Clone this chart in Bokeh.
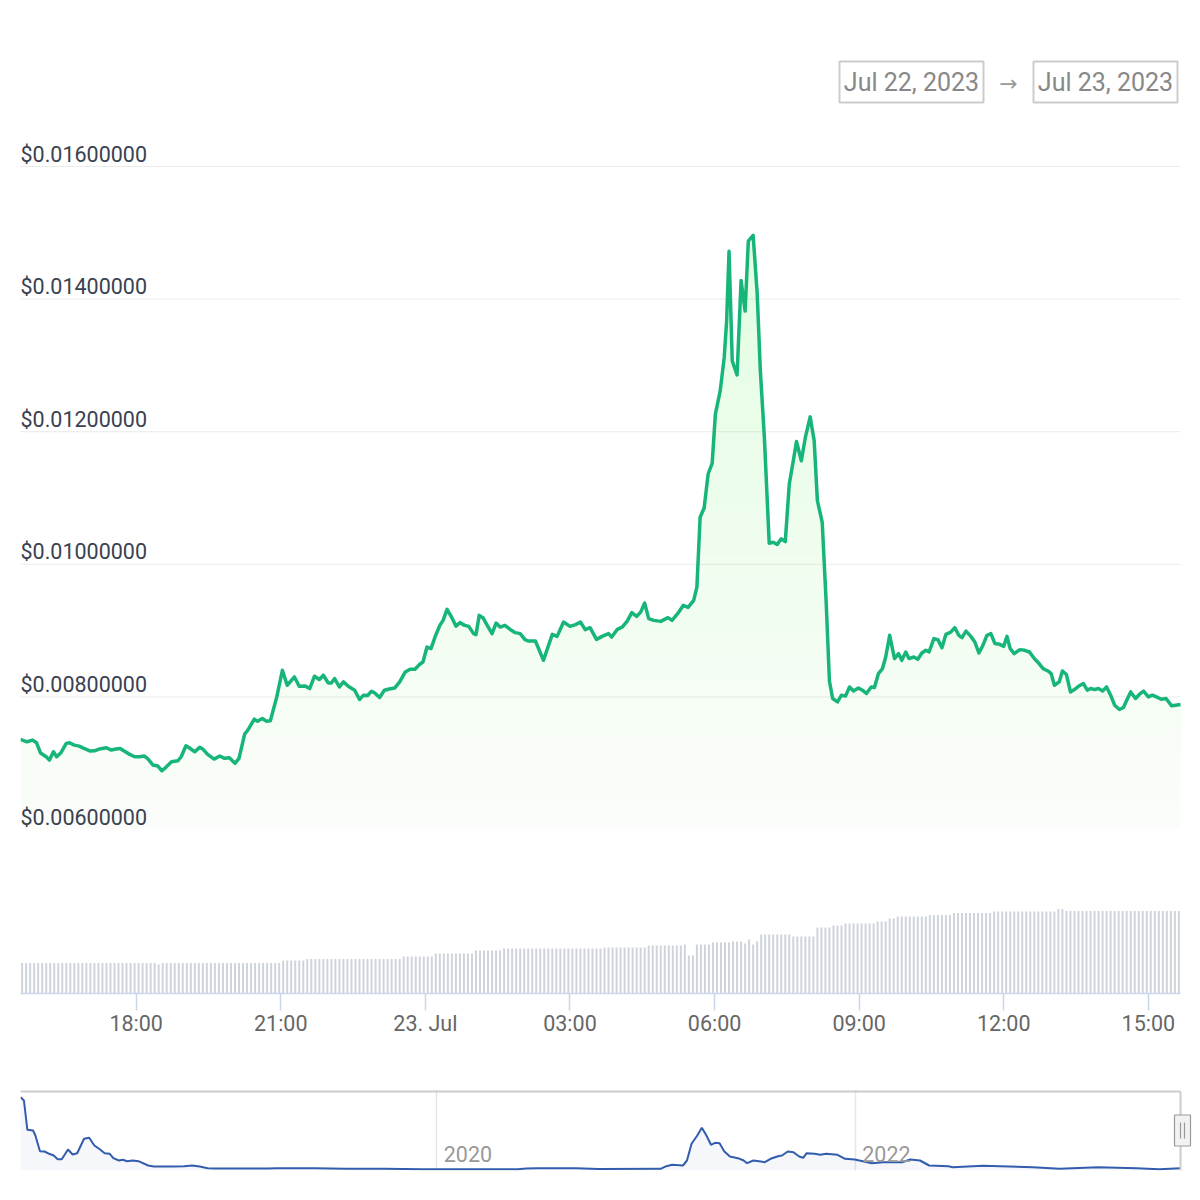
import numpy as np
import pandas as pd
from bokeh.plotting import figure
from bokeh.layouts import column
from bokeh.models import Range1d, FixedTicker
from bokeh.core.properties import value
from bokeh.embed import file_html
from bokeh.resources import INLINE

# ---------------- data ----------------
start_time = pd.Timestamp("2023-07-22 15:35")

price_minutes = [
    1, 9, 16, 21, 26, 33, 37, 42, 46, 51,
    58, 62, 68, 74, 80, 88, 93, 99, 108, 114,
    120, 125, 130, 137, 143, 149, 155, 159, 166, 172,
    177, 182, 189, 197, 201, 207, 211, 218, 224, 228,
    234, 242, 249, 255, 261, 268, 273, 280, 284, 292,
    296, 302, 307, 312, 320, 327, 333, 342, 348, 355,
    361, 367, 373, 378, 384, 388, 392, 398, 403, 409,
    417, 423, 428, 433, 438, 442, 448, 454, 460, 467,
    473, 480, 486, 492, 498, 502, 507, 512, 517, 523,
    527, 532, 538, 543, 548, 554, 559, 565, 568, 572,
    577, 582, 588, 593, 598, 604, 611, 617, 623, 629,
    633,
    642, 652, 663, 669, 677, 685, 692, 698, 704, 710,
    718, 725, 733, 737, 744, 750, 756, 762, 768, 773,
    778, 783, 789, 798, 807, 812, 819, 826, 832, 839,
    843, 847, 852, 857, 862, 866, 872, 877, 880, 883,
    887, 893, 898, 903, 907, 913, 918, 922, 927, 933,
    938, 943, 948, 953, 958, 963, 967, 973, 978, 984,
    989, 993, 999, 1004, 1008, 1012, 1018, 1023, 1028, 1033,
    1038, 1044, 1049, 1054, 1060, 1064, 1069, 1074, 1078, 1083,
    1089, 1094, 1098, 1103, 1107, 1113, 1118, 1123, 1128, 1132,
    1138, 1143, 1148, 1153, 1159, 1164, 1169, 1173, 1178, 1184,
    1189, 1194, 1199, 1204, 1209, 1214, 1220, 1225, 1229, 1233,
    1238, 1245, 1251, 1257, 1263, 1269, 1274, 1280, 1284, 1288,
    1294, 1298, 1303, 1308, 1313, 1318, 1324, 1329, 1333, 1338,
    1343, 1348, 1353, 1358, 1363, 1369, 1374, 1378, 1383, 1389,
    1394, 1399, 1405, 1410, 1415, 1421, 1427, 1434, 1439, 1445,
]

prices = [
    0.007359, 0.007323, 0.007348, 0.007308, 0.007153, 0.007097, 0.007047, 0.007172, 0.007097, 0.007153,
    0.007299, 0.007308, 0.007273, 0.007258, 0.007223, 0.007183, 0.007187, 0.007213, 0.007233, 0.007198,
    0.007213, 0.007223, 0.007183, 0.007133, 0.007097, 0.007097, 0.007108, 0.007073, 0.006972, 0.006957,
    0.006886, 0.006938, 0.007022, 0.007037, 0.007097, 0.007263, 0.007233, 0.007172, 0.007239, 0.007213,
    0.007133, 0.007062, 0.007108, 0.007073, 0.007082, 0.006998, 0.007073, 0.007439, 0.007499, 0.007664,
    0.007634, 0.007675, 0.007634, 0.007639, 0.008000, 0.008402, 0.008176, 0.008301, 0.008161, 0.008166,
    0.008126, 0.008312, 0.008262, 0.008327, 0.008211, 0.008211, 0.008277, 0.008150, 0.008226, 0.008161,
    0.008101, 0.007961, 0.008026, 0.008021, 0.008086, 0.008060, 0.007991, 0.008101, 0.008120, 0.008135,
    0.008226, 0.008376, 0.008417, 0.008417, 0.008492, 0.008527, 0.008752, 0.008728, 0.008903, 0.009079,
    0.009154, 0.009320, 0.009195, 0.009068, 0.009120, 0.009079, 0.009064, 0.008954, 0.008939, 0.009230,
    0.009189, 0.009079, 0.008954, 0.009114, 0.009053, 0.009079, 0.009014, 0.008969, 0.008954, 0.008864,
    0.008843,
    0.008843, 0.008552, 0.008944, 0.008913, 0.009129, 0.009064, 0.009090, 0.009129, 0.009014, 0.009044,
    0.008868, 0.008913, 0.008954, 0.008903, 0.009019, 0.009053, 0.009139, 0.009270, 0.009214, 0.009279,
    0.009415, 0.009180, 0.009154, 0.009139, 0.009195, 0.009154, 0.009255, 0.009380, 0.009350, 0.009455,
    0.009655, 0.010709, 0.010850, 0.011362, 0.011521, 0.012265, 0.012616, 0.013117, 0.013669, 0.014722,
    0.013067, 0.012856, 0.014281, 0.013819, 0.014873, 0.014963, 0.014095, 0.012917, 0.011913, 0.010318,
    0.010333, 0.010298, 0.010384, 0.010343, 0.011211, 0.011562, 0.011853, 0.011562, 0.011913, 0.012224,
    0.011863, 0.010960, 0.010634, 0.009406, 0.008236, 0.007976, 0.007925, 0.008026, 0.008011, 0.008150,
    0.008090, 0.008135, 0.008101, 0.008051, 0.008150, 0.008141, 0.008352, 0.008427, 0.008602, 0.008929,
    0.008578, 0.008653, 0.008552, 0.008677, 0.008578, 0.008602, 0.008567, 0.008662, 0.008703, 0.008677,
    0.008879, 0.008864, 0.008743, 0.008944, 0.008978, 0.009044, 0.008929, 0.008894, 0.008993, 0.008913,
    0.008828, 0.008662, 0.008778, 0.008929, 0.008954, 0.008804, 0.008793, 0.008763, 0.008913, 0.008728,
    0.008653, 0.008713, 0.008703, 0.008677, 0.008578, 0.008503, 0.008427, 0.008391, 0.008352, 0.008176,
    0.008226, 0.008391, 0.008337, 0.008075, 0.008111, 0.008161, 0.008202, 0.008101, 0.008126, 0.008111,
    0.008126, 0.008090, 0.008150, 0.008026, 0.007875, 0.007810, 0.007840, 0.007950, 0.008075, 0.007976,
    0.008041, 0.008086, 0.008000, 0.008026, 0.008000, 0.007965, 0.007976, 0.007865, 0.007875, 0.007886,
]

volume_start = pd.Timestamp("2023-07-22 15:38")
volumes = [
    30.5, 30.5, 30.5, 30.5, 30.5, 30.5, 30.5, 30.5, 30.5, 30.5,
    30.5, 30.5, 30.5, 30.5, 30.5, 30.5, 30.5, 30.5, 30.5, 30.5,
    30.5, 30.5, 30.5, 30.5, 30.5, 30.5, 30.5, 30.5, 30.5, 30.5,
    30.5, 30.5, 30.5, 30.5, 29.0, 30.5, 30.5, 30.5, 30.5, 30.5,
    30.5, 30.5, 30.5, 30.5, 30.5, 30.5, 30.5, 30.5, 30.5, 30.5,
    30.5, 30.5, 30.5, 30.5, 30.5, 30.5, 30.5, 30.5, 30.5, 30.5,
    30.5, 30.5, 30.5, 30.5, 30.5, 33.0, 33.0, 33.0, 33.0, 33.0,
    33.0, 34.5, 34.5, 34.5, 34.5, 34.5, 34.5, 34.5, 34.5, 34.5,
    34.5, 34.5, 34.5, 34.5, 34.5, 34.5, 34.5, 34.5, 34.5, 34.5,
    34.5, 34.5, 34.5, 34.5, 34.5, 37.0, 37.0, 37.0, 37.0, 37.0,
    37.0, 37.0, 37.0, 40.0, 40.0, 40.0, 40.0, 40.0, 40.0, 40.0,
    40.0, 40.0, 40.0, 43.0, 43.0, 43.0, 43.0, 43.0, 43.0, 43.0,
    45.0, 45.0, 45.0, 45.0, 45.0, 45.0, 45.0, 45.0, 45.0, 45.0,
    45.0, 45.0, 45.0, 45.0, 45.0, 45.0, 45.0, 45.0, 45.0, 45.0,
    45.0, 45.0, 45.0, 45.0, 45.0, 46.0, 46.0, 46.0, 46.0, 46.0,
    46.0, 46.0, 46.0, 46.0, 46.0, 46.0, 48.0, 48.0, 48.0, 48.0,
    48.0, 48.0, 48.0, 48.0, 48.0, 49.0, 38.0, 38.0, 49.0, 49.0,
    49.0, 49.0, 51.0, 51.0, 51.0, 51.0, 51.0, 52.0, 52.0, 52.0,
    50.0, 54.0, 49.0, 52.0, 59.0, 59.0, 59.0, 59.0, 59.0, 59.0,
    59.0, 59.0, 57.0, 57.0, 57.0, 57.0, 57.0, 57.0, 66.0, 66.0,
    66.0, 66.0, 68.0, 68.0, 68.0, 70.0, 70.0, 70.0, 70.0, 70.0,
    70.0, 70.0, 70.0, 72.0, 72.0, 72.0, 75.0, 75.0, 77.0, 77.0,
    77.0, 77.0, 77.0, 77.0, 77.0, 77.0, 78.5, 78.5, 78.5, 78.5,
    78.5, 78.5, 80.5, 80.5, 80.5, 80.5, 80.5, 80.5, 80.5, 80.5,
    80.5, 80.5, 82.0, 82.0, 82.0, 82.0, 82.0, 82.0, 82.0, 82.0,
    82.0, 82.0, 82.0, 82.0, 82.0, 82.0, 82.0, 82.0, 84.5, 84.5,
    82.5, 82.5, 82.5, 82.5, 82.5, 82.5, 82.5, 82.5, 82.5, 82.5,
    82.5, 82.5, 82.5, 82.5, 82.5, 82.5, 82.5, 82.5, 82.5, 82.5,
    82.5, 82.5, 82.5, 82.5, 82.5, 82.5, 82.5, 82.5, 82.5,
]

y_ticks = [0.006, 0.008, 0.010, 0.012, 0.014, 0.016]
y_tick_labels = ["$0.00600000", "$0.00800000", "$0.01000000",
                 "$0.01200000", "$0.01400000", "$0.01600000"]

x_tick_times = ["2023-07-22 18:00", "2023-07-22 21:00", "2023-07-23 00:00",
                "2023-07-23 03:00", "2023-07-23 06:00", "2023-07-23 09:00",
                "2023-07-23 12:00", "2023-07-23 15:00"]
x_tick_labels = ["18:00", "21:00", "23. Jul", "03:00", "06:00", "09:00", "12:00", "15:00"]

nav_dates = [
    "2018-01-04", "2018-01-10", "2018-01-16", "2018-01-26", "2018-01-30", "2018-02-07",
    "2018-02-15", "2018-02-23", "2018-03-03", "2018-03-10", "2018-03-17", "2018-03-28",
    "2018-04-05", "2018-04-13", "2018-04-25", "2018-05-04", "2018-05-13", "2018-05-23",
    "2018-05-31", "2018-06-09", "2018-06-15", "2018-06-25", "2018-07-02", "2018-07-09",
    "2018-07-19", "2018-07-29", "2018-08-15", "2018-08-25", "2018-09-13", "2018-09-27",
    "2018-10-17", "2018-10-31", "2018-11-13", "2018-11-27", "2018-12-09", "2019-03-13",
    "2019-03-27", "2019-05-20", "2019-06-02", "2019-07-26", "2019-10-01", "2019-12-07",
    "2020-05-22", "2020-06-05", "2020-06-25", "2020-08-31", "2020-10-10", "2021-01-26",
    "2021-02-05", "2021-02-15", "2021-03-06", "2021-03-13", "2021-03-21", "2021-03-31",
    "2021-04-08", "2021-04-16", "2021-04-24", "2021-05-01", "2021-05-09", "2021-05-17",
    "2021-05-27", "2021-06-10", "2021-06-20", "2021-06-26", "2021-07-07", "2021-07-17",
    "2021-07-27", "2021-08-06", "2021-08-19", "2021-08-26", "2021-09-05", "2021-09-15",
    "2021-09-25", "2021-10-02", "2021-10-08", "2021-10-22", "2021-11-01", "2021-11-11",
    "2021-12-01", "2021-12-14", "2021-12-31", "2022-01-16", "2022-01-30", "2022-02-19",
    "2022-03-24", "2022-04-07", "2022-04-24", "2022-05-10", "2022-06-13", "2022-06-20",
    "2022-08-12", "2022-11-07", "2022-12-24", "2023-03-01", "2023-05-07", "2023-06-16",
    "2023-07-23",
]
nav_prices = [
    0.2639, 0.252, 0.1465, 0.144, 0.126, 0.0695,
    0.0684, 0.0601, 0.054, 0.0407, 0.0407, 0.0756,
    0.0576, 0.0623, 0.1141, 0.1177, 0.090, 0.0756,
    0.0623, 0.0601, 0.0443, 0.036, 0.0385, 0.0335,
    0.036, 0.0335, 0.018, 0.0144, 0.0144, 0.0144,
    0.0155, 0.018, 0.0144, 0.0083, 0.0072, 0.0072,
    0.0083, 0.0083, 0.0083, 0.0061, 0.0061, 0.0047,
    0.0047, 0.0072, 0.0083, 0.0083, 0.005, 0.0061,
    0.0155, 0.0205, 0.018, 0.036, 0.0961, 0.126,
    0.1537, 0.126, 0.0925, 0.0997, 0.0983, 0.0695,
    0.0504, 0.0443, 0.036, 0.0263, 0.036, 0.0335,
    0.0299, 0.0421, 0.0515, 0.054, 0.0684, 0.0659,
    0.0504, 0.0457, 0.0623, 0.0601, 0.0565, 0.0601,
    0.0565, 0.0421, 0.0396, 0.0324, 0.0263, 0.0299,
    0.0299, 0.0396, 0.036, 0.018, 0.0155, 0.0119,
    0.0169, 0.0119, 0.0061, 0.0119, 0.0083, 0.0047,
    0.0079,
]
nav_year_ticks = ["2020-01-01", "2022-01-01"]
nav_year_labels = ["2020", "2022"]

# ---------------- styling / layout ----------------
FONT = value("Roboto")
W = 1200
LINE_GREEN = "#17b57a"
FILL_GREEN = "#7cc55e"
PLOT_PX = 1160     # pixel width of the data area (x = 20 .. 1180)
FRAME_PX = 1172    # frame width (x = 20 .. 1192) leaving room for the navigator handle


def base_fig(**kw):
    f = figure(width=W, output_backend="svg", toolbar_location=None,
               x_axis_type=kw.pop("x_axis_type", None), y_axis_type=None,
               min_border_left=20, min_border_right=8,
               outline_line_color=None, background_fill_color="white",
               border_fill_color="white", **kw)
    return f


price_times = (start_time + pd.to_timedelta(price_minutes, unit="m")).to_numpy()
price_arr = np.array(prices)
t0 = pd.Timestamp(price_times[0])
t1 = pd.Timestamp(price_times[-1])
x_range = Range1d(t0, t0 + (t1 - t0) * (FRAME_PX / PLOT_PX))

# header with date range boxes (coordinates = page pixels)
h = base_fig(height=118, x_range=Range1d(20, 1192), y_range=Range1d(118, 0),
             min_border_top=0, min_border_bottom=0)
date_from = t0.strftime("%b %d, %Y")
date_to = t1.strftime("%b %d, %Y")
h.quad(left=[839, 1033], right=[983, 1177], top=[61, 61], bottom=[102, 102],
       fill_color="white", line_color="#cccccc", line_width=2)
h.text(x=[911, 1105], y=[82, 82], text=[date_from, date_to], text_align="center",
       text_baseline="middle", text_font=FONT, text_font_size="25px", text_color="#888888")
h.text(x=[1008], y=[83], text=["→"], text_align="center", text_baseline="middle",
       text_font=value("DejaVu Sans"), text_font_size="22px", text_color="#999999")

# price panel
p = base_fig(height=711, x_range=x_range, y_range=Range1d(0.006, 0.016724),
             min_border_top=0, min_border_bottom=0)
p.segment(x0=[t0] * len(y_ticks), y0=y_ticks, x1=[t1] * len(y_ticks), y1=y_ticks,
          line_color="#ebebeb", line_width=1)
p.varea(x=price_times, y1=0.006, y2=price_arr, fill_color=FILL_GREEN, fill_alpha=0.04)
for lv in np.linspace(0.006, 0.015, 25)[1:]:
    p.varea(x=price_times, y1=np.minimum(lv, price_arr), y2=price_arr,
            fill_color=FILL_GREEN, fill_alpha=0.009)
p.line(x=price_times, y=price_arr, line_color=LINE_GREEN, line_width=3.5, line_join="round")
p.text(x=[t0] * len(y_ticks), y=y_ticks, text=y_tick_labels,
       text_align="left", text_baseline="bottom",
       text_font=FONT, text_font_size="21.5px", text_color="#3a4150")

# volume panel with time axis
vol_times = (volume_start + pd.to_timedelta(np.arange(len(volumes)) * 5, unit="m")).to_numpy()
v = base_fig(height=221, x_range=x_range, y_range=Range1d(0, 164), x_axis_type="datetime",
             min_border_top=0, min_border_bottom=57)
v.vbar(x=vol_times, top=volumes, width=150000, fill_color="#cfd4dc", line_color=None)
v.xgrid.visible = False
ax = v.xaxis[0]
tick_ms = [float(ts.value // 10**6) for ts in pd.to_datetime(x_tick_times)]
ax.ticker = FixedTicker(ticks=tick_ms)
ax.major_label_overrides = dict(zip(tick_ms, x_tick_labels))
ax.bounds = (t0, t1)
ax.axis_line_color = "#ccd6eb"
ax.axis_line_width = 1.5
ax.major_tick_line_color = "#ccd6eb"
ax.major_tick_line_width = 1.5
ax.major_tick_out = 17
ax.major_tick_in = 0
ax.minor_tick_out = 0
ax.minor_tick_in = 0
ax.major_label_standoff = 0
ax.major_label_text_font = "Roboto"
ax.major_label_text_font_size = "21.5px"
ax.major_label_text_color = "#666666"

# navigator
nd = pd.to_datetime(nav_dates)
span = nd[-1] - nd[0]
dpp = span / PLOT_PX
NAV_TOP = 0.2916
nav_px = NAV_TOP / 81
n = base_fig(height=148, x_range=Range1d(nd[0], nd[0] + dpp * FRAME_PX),
             y_range=Range1d(0, NAV_TOP), min_border_top=39, min_border_bottom=28)
year_ts = pd.to_datetime(nav_year_ticks)
n.vspan(x=year_ts.to_numpy(), line_color="#e6e6e6", line_width=1.5)
n.varea(x=nd.to_numpy(), y1=0, y2=nav_prices, fill_color="#335cad", fill_alpha=0.05)
n.line(x=nd.to_numpy(), y=nav_prices, line_color="#335cad", line_width=2)
n.text(x=year_ts.to_numpy(), y=[9 * nav_px] * 2, text=nav_year_labels, x_offset=7,
       text_align="left", text_baseline="bottom", text_font=FONT,
       text_font_size="21.5px", text_color="#999999")
outline_y = NAV_TOP - 2 * nav_px
n.segment(x0=[nd[0], nd[-1]], y0=[outline_y, 0], x1=[nd[-1], nd[-1]], y1=[outline_y, outline_y],
          line_color="#cccccc", line_width=2)
handle_y = 40 * nav_px
n.rect(x=[nd[-1] + 2 * dpp], y=[handle_y], width=16, height=31, width_units="screen",
       height_units="screen", fill_color="#f2f2f2", line_color="#999999", line_width=1.2)
n.segment(x0=[nd[-1], nd[-1] + 4 * dpp], y0=[handle_y - 8 * nav_px] * 2,
          x1=[nd[-1], nd[-1] + 4 * dpp], y1=[handle_y + 8 * nav_px] * 2,
          line_color="#999999", line_width=1.2)

layout = column(h, p, v, n, spacing=0)
open("out.html", "w").write(file_html(layout, INLINE))
